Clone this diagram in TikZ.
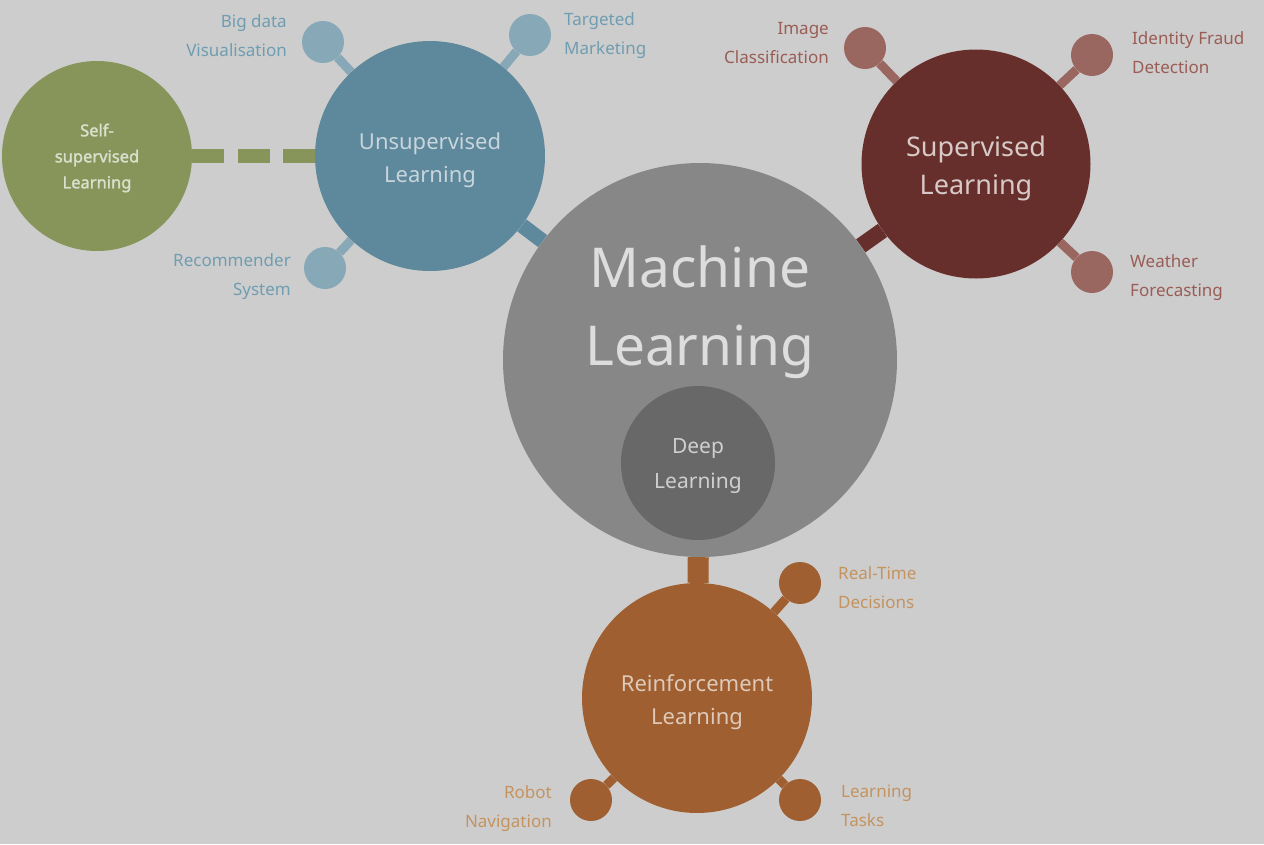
\documentclass[tikz,border=0pt]{standalone}
\usepackage{fontspec}
\setmainfont{Noto Sans}[AutoFakeBold=1.6]
\usetikzlibrary{backgrounds}
\definecolor{bgc}{HTML}{CDCDCD}
\definecolor{mlc}{HTML}{878787}
\definecolor{dlc}{HTML}{686868}
\definecolor{unc}{HTML}{5E889B}
\definecolor{unsat}{HTML}{87A8B6}
\definecolor{unlbl}{HTML}{6F9DB1}
\definecolor{sfc}{HTML}{88955A}
\definecolor{spc}{HTML}{672F2B}
\definecolor{spsat}{HTML}{9A6660}
\definecolor{splbl}{HTML}{9A5D55}
\definecolor{rfc}{HTML}{9F5F30}
\definecolor{rflbl}{HTML}{C4935F}
\begin{document}
\begin{tikzpicture}[x=1pt,y=-1pt,
  bigc/.style={circle, inner sep=0pt},
  ctext/.style={inner sep=0pt, align=center},
  satc/.style={circle, inner sep=0pt, minimum size=42pt},
  lbl/.style={inner sep=0pt, align=#1, font=\fontsize{17}{29}\selectfont},
  stem/.style={line width=9pt}]
\useasboundingbox (0,0) rectangle (1264,844);
% main circles
\node[bigc, fill=mlc, minimum size=394pt] (ml) at (700,360) {};
\node[ctext, text=white!72!mlc, font=\fontsize{55}{78}\selectfont] (mltext) at (700,312) {Machine\\Learning};
\node[bigc, fill=dlc, minimum size=154pt] (dl) at (698,463) {};
\node[ctext, text=white!68!dlc, font=\fontsize{21}{35}\selectfont] (dltext) at (698,466) {Deep\\Learning};
\node[bigc, fill=unc, minimum size=230pt] (un) at (430,156) {};
\node[ctext, text=white!65!unc, font=\fontsize{22}{33}\selectfont] (untext) at (430,160) {Unsupervised\\Learning};
\node[bigc, fill=sfc, minimum size=190pt] (sf) at (97,156) {};
\node[ctext, text=white!70!sfc, font=\bfseries\fontsize{16.5}{26}\selectfont] (sftext) at (97,158) {Self-\\supervised\\Learning};
\node[bigc, fill=spc, minimum size=229pt] (sp) at (976,164) {};
\node[ctext, text=white!74!spc, font=\fontsize{27}{38}\selectfont] (sptext) at (976,168) {Supervised\\Learning};
\node[bigc, fill=rfc, minimum size=230pt] (rf) at (697,698) {};
\node[ctext, text=white!66!rfc, font=\fontsize{22}{33}\selectfont] (rftext) at (697,702) {Reinforcement\\Learning};
% satellites
\node[satc, fill=unsat] (u1) at (323,42) {};
\node[satc, fill=unsat] (u2) at (530,35) {};
\node[satc, fill=unsat] (u3) at (325,268) {};
\node[satc, fill=spsat] (s1) at (865,48) {};
\node[satc, fill=spsat] (s2) at (1092,55) {};
\node[satc, fill=spsat] (s3) at (1092,272) {};
\node[satc, fill=rfc] (r1) at (800,583) {};
\node[satc, fill=rfc] (r2) at (591,800) {};
\node[satc, fill=rfc] (r3) at (800,800) {};
% labels
\node[lbl=right, anchor=east, text=unlbl] (l1) at (287,36) {Big data\\Visualisation};
\node[lbl=left, anchor=west, text=unlbl] (l2) at (564,36) {Targeted\\Marketing};
\node[lbl=right, anchor=east, text=unlbl] (l3) at (291,277) {Recommender\\System};
\node[lbl=right, anchor=east, text=splbl] (l4) at (829,43) {Image\\Classification};
\node[lbl=left, anchor=west, text=splbl] (l5) at (1132,53) {Identity Fraud\\Detection};
\node[lbl=left, anchor=west, text=splbl] (l6) at (1130,278) {Weather\\Forecasting};
\node[lbl=left, anchor=west, text=rflbl] (l7) at (838,588) {Real-Time\\Decisions};
\node[lbl=right, anchor=east, text=rflbl] (l8) at (552,809) {Robot\\Navigation};
\node[lbl=left, anchor=west, text=rflbl] (l9) at (841,806) {Learning\\Tasks};
% dashed link
\draw[sfc, line width=14pt, dash pattern=on 32pt off 13.5pt] (sf.east) -- (un.west);
\begin{scope}[on background layer]
\fill[bgc] (0,0) rectangle (1264,844);
\draw[unc, line width=15pt] (un) -- (ml);
\draw[spc, line width=16pt] (sp) -- (ml);
\draw[rfc, line width=21pt] (rf) -- (ml);
\draw[stem, unsat] (u1) -- (un);
\draw[stem, unsat] (u2) -- (un);
\draw[stem, unsat] (u3) -- (un);
\draw[stem, spsat] (s1) -- (sp);
\draw[stem, spsat] (s2) -- (sp);
\draw[stem, spsat] (s3) -- (sp);
\draw[stem, rfc] (r1) -- (rf);
\draw[stem, rfc] (r2) -- (rf);
\draw[stem, rfc] (r3) -- (rf);
\end{scope}
\end{tikzpicture}
\end{document}
